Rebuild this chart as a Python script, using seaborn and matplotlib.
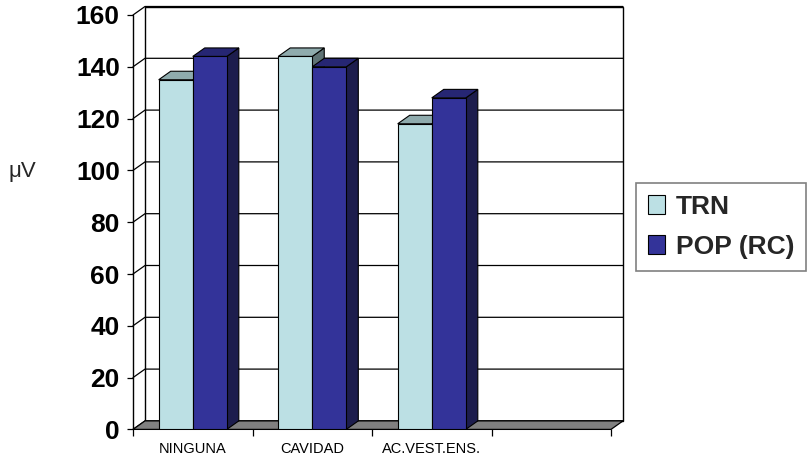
import matplotlib
matplotlib.use("Agg")
import matplotlib.pyplot as plt
from matplotlib.patches import Polygon, Patch, Rectangle
from matplotlib.ticker import MultipleLocator, FixedLocator
import seaborn as sns
import pandas as pd

categories = ["NINGUNA", "CAVIDAD", "AC.VEST.ENS."]
series_names = ["TRN", "POP (RC)"]
trn_values = [135, 144, 118]
pop_values = [144, 140, 128]
y_ticks = [0, 20, 40, 60, 80, 100, 120, 140, 160]
y_label = "μV"

front_colors = {"TRN": "#BCE0E4", "POP (RC)": "#333399"}
top_colors = {"TRN": "#8FABAD", "POP (RC)": "#262673"}
side_colors = {"TRN": "#5F7375", "POP (RC)": "#1D1D4D"}

sns.set_theme(style="white")
plt.rcParams["font.family"] = ["Liberation Sans", "DejaVu Sans"]

df = pd.DataFrame({
    "cat": categories * 2,
    "val": trn_values + pop_values,
    "series": [series_names[0]] * 3 + [series_names[1]] * 3,
})

W, H = 807, 457
fig = plt.figure(figsize=(W / 100, H / 100), dpi=100)
fig.patch.set_facecolor("white")
ax_l, ax_r, ax_t, ax_b = 133, 611, 15, 429.4
ax = fig.add_axes([ax_l / W, 1 - ax_b / H, (ax_r - ax_l) / W, (ax_b - ax_t) / H])
ax.set_facecolor("none")

sns.barplot(data=df, x="cat", y="val", hue="series", order=categories,
            hue_order=series_names, palette=front_colors, width=0.57,
            saturation=1, edgecolor="black", linewidth=0.8, ax=ax, legend=False)

bars = [p for p in ax.patches if isinstance(p, Rectangle) and p.get_height() > 0]
bars.sort(key=lambda p: p.get_x())

ax.set_xlim(-0.5, 3.5)
ax.set_ylim(0, 160)

# depth offset in data units
slot_px = (ax_r - ax_l) / 4
unit_px = (ax_b - ax_t) / 160
dx = 12 / slot_px
dy = 8.5 / unit_px

x0, x1 = -0.5, 3.5
# back wall
ax.add_patch(Polygon([(x0 + dx, dy), (x1 + dx, dy), (x1 + dx, 160 + dy), (x0 + dx, 160 + dy)],
                     closed=True, facecolor="white", edgecolor="black", lw=1.0,
                     zorder=0.5, clip_on=False))
# left wall lines
ax.plot([x0, x0], [0, 160], color="black", lw=1.0, zorder=1, clip_on=False)
for yv in y_ticks:
    ax.plot([x0, x0 + dx, x1 + dx], [yv, yv + dy, yv + dy], color="black",
            lw=0.9, zorder=1, clip_on=False)
# floor
ax.add_patch(Polygon([(x0, 0), (x1, 0), (x1 + dx, dy), (x0 + dx, dy)], closed=True,
                     facecolor="#808080", edgecolor="black", lw=0.9, zorder=1.5,
                     clip_on=False))

# 3D faces for bars (bars sorted by x: TRN, POP alternate in each group)
for i, p in enumerate(bars):
    s = series_names[i % 2]
    z = 3 if i % 2 == 0 else 4
    x, w, h = p.get_x(), p.get_width(), p.get_height()
    p.set_zorder(z + 0.1)
    ax.add_patch(Polygon([(x + w, 0), (x + w, h), (x + w + dx, h + dy), (x + w + dx, dy)],
                         closed=True, facecolor=side_colors[s], edgecolor="black",
                         lw=0.8, zorder=z, clip_on=False))
    ax.add_patch(Polygon([(x, h), (x + w, h), (x + w + dx, h + dy), (x + dx, h + dy)],
                         closed=True, facecolor=top_colors[s], edgecolor="black",
                         lw=0.8, zorder=z, clip_on=False))

for sp in ax.spines.values():
    sp.set_visible(False)

ax.yaxis.set_major_locator(FixedLocator(y_ticks))
ax.set_yticklabels([str(v) for v in y_ticks], fontsize=19, fontweight="bold")
ax.tick_params(axis="y", which="major", left=True, length=4.5, width=0.9,
               color="black", pad=5, labelcolor="black")
ax.set_xticks(range(len(categories)))
ax.set_xticklabels(categories, fontsize=10.5)
ax.xaxis.set_minor_locator(MultipleLocator(1, offset=0.5))
ax.tick_params(axis="x", which="major", bottom=True, length=0, pad=9, labelcolor="black")
ax.tick_params(axis="x", which="minor", bottom=True, length=5, width=0.9, color="black")
ax.set_xlabel("")
ax.set_ylabel("")

fig.text(8 / W, 1 - 172 / H, y_label, fontsize=16, ha="left", va="center")

handles = [Patch(facecolor=front_colors[s], edgecolor="black", lw=0.8) for s in series_names]
leg = fig.legend(handles, series_names, loc="upper left",
                 bbox_to_anchor=(636 / W, 1 - 183 / H), borderaxespad=0,
                 prop={"weight": "bold", "size": 19}, frameon=True, fancybox=False,
                 edgecolor="#606060", handlelength=0.65, handleheight=0.7,
                 handletextpad=0.42, labelspacing=0.6, borderpad=0.45)
leg.get_frame().set_linewidth(1.2)

fig.savefig("out.png", dpi=100, facecolor="white")
